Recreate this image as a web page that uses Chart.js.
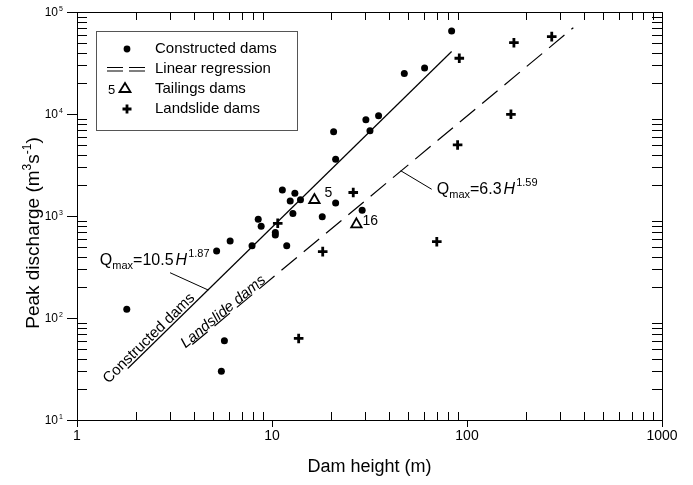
<!DOCTYPE html>
<html>
<head>
<meta charset="utf-8">
<script src="https://cdn.jsdelivr.net/npm/chart.js@4/dist/chart.umd.min.js"></script>
<style>
  html, body { margin: 0; padding: 0; background: #fff; }
</style>
</head>
<body>
<canvas id="damChart" width="693" height="485"></canvas>
<script>
// values (dam height in m, peak discharge in m3/s)
const constructedH = [1.8, 5.2, 6.1, 7.9, 8.5, 8.8, 10.4, 10.4, 11.3, 11.9, 12.4, 13.1, 12.8, 14.0,
                      18.1, 21.2, 21.2, 20.7, 31.8, 29, 5.7, 5.5, 83.4, 60.6, 47.7, 35.2, 30.3];
const constructedQ = [122, 454, 569, 512, 929, 792, 690, 650, 1800, 512, 1400, 1670, 1060, 1440,
                      985, 1340, 3600, 6700, 6860, 1140, 60, 30, 65200, 28300, 25000, 9620, 8800];

const landslideH = [10.7, 26.1, 18.2, 13.7, 91.3, 174, 272, 168, 89.5, 70];
const landslideQ = [848, 1700, 447, 63, 35200, 50000, 57300, 9930, 4970, 560];

const tailingsH = [16.5, 27.1];
const tailingsQ = [1435, 828];
const tailingsLabels = ['5', '16'];

// ends of the two regression lines as drawn
const fitConstructedH = [1.82, 83.4];
const fitConstructedQ = [32, 41000];
const fitLandslideH = [3.9, 351];
const fitLandslideQ = [55, 70200];

const xTicks = [1, 10, 100, 1000];
const yTicks = [10, 100, 1000, 10000, 100000];
const yExp = ['1', '2', '3', '4', '5'];

const toPoints = (xs, ys) => xs.map((v, i) => ({ x: v, y: ys[i] }));

const FONT = '"Liberation Sans", Arial, Helvetica, sans-serif';

// draws a run of text pieces (normal / sub / sup) starting at x, on baseline y
const drawRich = (ctx, parts, x, y) => {
    let cx = x;
    for (const p of parts) {
        ctx.font = (p.italic ? 'italic ' : '') + p.size + 'px ' + FONT;
        ctx.fillText(p.t, cx, y + (p.dy || 0));
        cx += ctx.measureText(p.t).width + (p.gap || 0);
    }
};

const framePlugin = {
    id: 'framePlugin',
    afterDraw(chart) {
        const { ctx, chartArea: a } = chart;
        const xs = chart.scales.x, ys = chart.scales.y;
        ctx.save();
        ctx.strokeStyle = '#000';
        ctx.fillStyle = '#000';
        ctx.lineWidth = 1;
        ctx.strokeRect(a.left + 0.5, a.top + 0.5, a.right - a.left, a.bottom - a.top);

        // ticks - minor ones point inward, decades point outward
        ctx.beginPath();
        for (let d = 1; d < 1000; d *= 10) {
            for (let m = 2; m <= 9; m++) {
                const px = Math.round(xs.getPixelForValue(d * m)) + 0.5;
                ctx.moveTo(px, a.bottom); ctx.lineTo(px, a.bottom - 8);
                ctx.moveTo(px, a.top); ctx.lineTo(px, a.top + 8);
            }
        }
        for (let d = 10; d < 100000; d *= 10) {
            for (let m = 2; m <= 9; m++) {
                const py = Math.round(ys.getPixelForValue(d * m)) + 0.5;
                ctx.moveTo(a.left, py); ctx.lineTo(a.left + 10, py);
                ctx.moveTo(a.right, py); ctx.lineTo(a.right - 10, py);
            }
        }
        xTicks.forEach(v => {
            const px = Math.round(xs.getPixelForValue(v)) + 0.5;
            ctx.moveTo(px, a.bottom); ctx.lineTo(px, a.bottom + 7);
        });
        yTicks.forEach(v => {
            const py = Math.round(ys.getPixelForValue(v)) + 0.5;
            ctx.moveTo(a.left, py); ctx.lineTo(a.left - 10, py);
        });
        ctx.stroke();

        // tick labels
        ctx.textBaseline = 'middle';
        ctx.textAlign = 'center';
        ctx.font = '14px ' + FONT;
        xTicks.forEach(v => ctx.fillText(String(v), xs.getPixelForValue(v), a.bottom + 16));
        yTicks.forEach((v, i) => {
            const py = ys.getPixelForValue(v);
            ctx.textAlign = 'right';
            ctx.font = '12px ' + FONT;
            ctx.fillText('10', a.left - 19, py + 1);
            ctx.textAlign = 'left';
            ctx.font = '7px ' + FONT;
            ctx.fillText(yExp[i], a.left - 18, py - 3);
        });

        // axis titles
        ctx.textAlign = 'center';
        ctx.textBaseline = 'alphabetic';
        ctx.font = '18px ' + FONT;
        ctx.fillText('Dam height (m)', (a.left + a.right) / 2, a.bottom + 52);

        ctx.save();
        ctx.translate(39, 233);
        ctx.rotate(-Math.PI / 2);
        ctx.textAlign = 'left';
        const yParts = [
            { t: 'Peak discharge (m', size: 19 },
            { t: '3', size: 12, dy: -8 },
            { t: 's', size: 19 },
            { t: '-1', size: 12, dy: -8 },
            { t: ')', size: 19 }
        ];
        let w = 0;
        yParts.forEach(p => { ctx.font = p.size + 'px ' + FONT; w += ctx.measureText(p.t).width; });
        drawRich(ctx, yParts, -w / 2, 0);
        ctx.restore();

        // regression labels along the lines
        const lineAngle = (hs, qs) => {
            const x1 = xs.getPixelForValue(hs[0]), y1 = ys.getPixelForValue(qs[0]);
            const x2 = xs.getPixelForValue(hs[1]), y2 = ys.getPixelForValue(qs[1]);
            return Math.atan2(y2 - y1, x2 - x1);
        };
        const alongText = (txt, h, q, ang, italic) => {
            ctx.save();
            ctx.translate(xs.getPixelForValue(h), ys.getPixelForValue(q));
            ctx.rotate(ang);
            ctx.textAlign = 'center';
            ctx.textBaseline = 'middle';
            ctx.font = (italic ? 'italic ' : '') + '15px ' + FONT;
            ctx.fillText(txt, 0, 0);
            ctx.restore();
        };
        alongText('Constructed dams', 2.34, 63, lineAngle(fitConstructedH, fitConstructedQ), false);
        alongText('Landslide dams', 5.63, 115, lineAngle(fitLandslideH, fitLandslideQ), true);

        // equation labels with leader lines
        ctx.lineWidth = 1;
        ctx.beginPath();
        ctx.moveTo(xs.getPixelForValue(3.0), ys.getPixelForValue(278));
        ctx.lineTo(xs.getPixelForValue(4.71), ys.getPixelForValue(188));
        ctx.moveTo(xs.getPixelForValue(45.7), ys.getPixelForValue(2780));
        ctx.lineTo(xs.getPixelForValue(65.9), ys.getPixelForValue(1828));
        ctx.stroke();

        ctx.textAlign = 'left';
        ctx.textBaseline = 'alphabetic';
        drawRich(ctx, [
            { t: 'Q', size: 16 }, { t: 'max', size: 11, dy: 4 }, { t: '=10.5', size: 16, gap: 2 },
            { t: 'H', size: 16, italic: true, gap: 1 }, { t: '1.87', size: 11, dy: -8 }
        ], xs.getPixelForValue(1.31), ys.getPixelForValue(331));
        drawRich(ctx, [
            { t: 'Q', size: 16 }, { t: 'max', size: 11, dy: 4 }, { t: '=6.3', size: 16, gap: 2 },
            { t: 'H', size: 16, italic: true, gap: 1 }, { t: '1.59', size: 11, dy: -8 }
        ], xs.getPixelForValue(70), ys.getPixelForValue(1644));

        // tailings dam numbers
        ctx.font = '14px ' + FONT;
        ctx.textBaseline = 'middle';
        const labOff = [[10, -7], [6, -3]];
        tailingsH.forEach((h, i) => {
            ctx.fillText(tailingsLabels[i], xs.getPixelForValue(h) + labOff[i][0], ys.getPixelForValue(tailingsQ[i]) + labOff[i][1]);
        });

        // legend
        const lx = 96, ly = 31;
        ctx.fillStyle = '#fff';
        ctx.fillRect(lx, ly, 201, 99);
        ctx.strokeStyle = '#555';
        ctx.strokeRect(lx + 0.5, ly + 0.5, 201, 99);
        ctx.fillStyle = '#000';
        ctx.strokeStyle = '#000';
        ctx.font = '15px ' + FONT;
        ctx.textBaseline = 'middle';
        const rows = ['Constructed dams', 'Linear regression', 'Tailings dams', 'Landslide dams'];
        rows.forEach((t, i) => ctx.fillText(t, lx + 59, ly + 18 + i * 20));
        const sx = lx + 31;
        ctx.beginPath(); ctx.arc(sx, ly + 18, 3.4, 0, Math.PI * 2); ctx.fill();
        ctx.lineWidth = 1.2;
        ctx.beginPath();
        [ly + 36.5, ly + 40].forEach(yy => {
            ctx.moveTo(lx + 11, yy); ctx.lineTo(lx + 27, yy);
            ctx.moveTo(lx + 33, yy); ctx.lineTo(lx + 49, yy);
        });
        ctx.stroke();
        ctx.font = '13px ' + FONT;
        ctx.fillText('5', lx + 12, ly + 59);
        ctx.lineWidth = 1.8;
        ctx.beginPath();
        ctx.moveTo(sx - 2, ly + 52); ctx.lineTo(sx + 3.5, ly + 61); ctx.lineTo(sx - 7.5, ly + 61); ctx.closePath();
        ctx.stroke();
        ctx.lineWidth = 2.8;
        ctx.beginPath();
        ctx.moveTo(sx - 4.5, ly + 78); ctx.lineTo(sx + 4.5, ly + 78);
        ctx.moveTo(sx, ly + 73.5); ctx.lineTo(sx, ly + 82.5);
        ctx.stroke();
        ctx.restore();
    }
};

new Chart(document.getElementById('damChart'), {
    type: 'scatter',
    data: {
        datasets: [
            {
                label: 'Linear regression (constructed)',
                data: toPoints(fitConstructedH, fitConstructedQ),
                showLine: true, borderColor: '#000', borderWidth: 1.2, pointRadius: 0
            },
            {
                label: 'Linear regression (landslide)',
                data: toPoints(fitLandslideH, fitLandslideQ),
                showLine: true, borderColor: '#000', borderWidth: 1.2, borderDash: [20, 9], pointRadius: 0
            },
            {
                label: 'Constructed dams',
                data: toPoints(constructedH, constructedQ),
                pointStyle: 'circle', pointRadius: 3.5, backgroundColor: '#000', borderColor: '#000', borderWidth: 0
            },
            {
                label: 'Landslide dams',
                data: toPoints(landslideH, landslideQ),
                pointStyle: 'cross', pointRadius: 4.8, borderColor: '#000', borderWidth: 2.8
            },
            {
                label: 'Tailings dams',
                data: toPoints(tailingsH, tailingsQ),
                pointStyle: 'triangle', pointRadius: 6, backgroundColor: 'rgba(255,255,255,0)', borderColor: '#000', borderWidth: 1.8
            }
        ]
    },
    options: {
        responsive: false,
        animation: false,
        devicePixelRatio: 1,
        layout: { padding: { left: 77, right: 31, top: 12, bottom: 65 } },
        plugins: { legend: { display: false }, tooltip: { enabled: false } },
        scales: {
            x: { type: 'logarithmic', min: 1, max: 1000, display: false },
            y: { type: 'logarithmic', min: 10, max: 100000, display: false }
        }
    },
    plugins: [framePlugin]
});
</script>
</body>
</html>
